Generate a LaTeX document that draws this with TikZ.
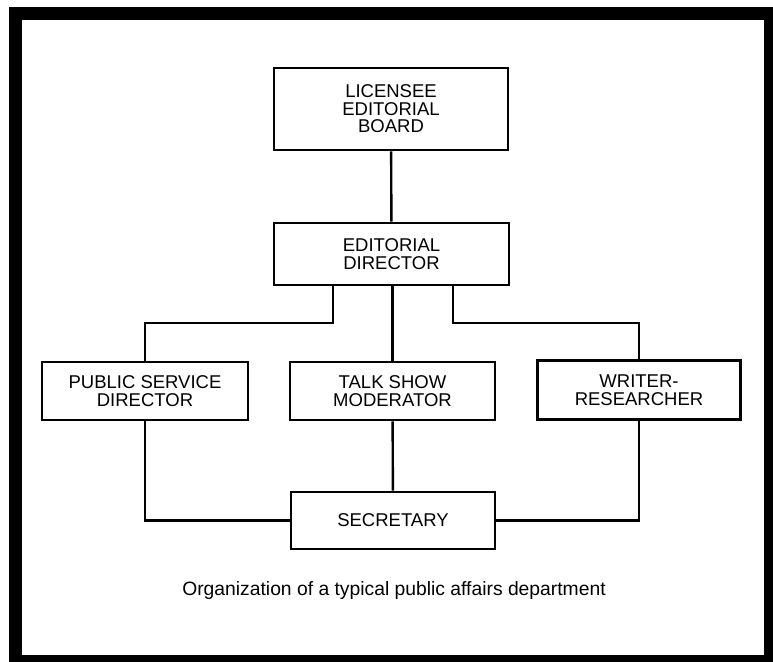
\documentclass[tikz,border=0pt]{standalone}
\usepackage{fontspec}
\setmainfont{Liberation Sans}
\begin{document}
\begin{tikzpicture}[x=1pt, y=-1pt,
    post/.style={draw, line width=2.8pt, align=center, inner sep=0pt,
      font=\fontsize{18.5}{17.5}\selectfont},
    link/.style={line width=2.4pt}]
    \useasboundingbox (0,0) rectangle (773,661);
    \draw[line width=13pt] (15,13.5) rectangle (770,661);
    \node[post, minimum width=234pt, minimum height=82pt] (board) at (391,109) {LICENSEE\\EDITORIAL\\BOARD};
    \node[post, minimum width=235pt, minimum height=62pt] (editor) at (391.5,254) {EDITORIAL\\DIRECTOR};
    \node[post, minimum width=206pt, minimum height=58pt] (service) at (145,391) {PUBLIC SERVICE\\DIRECTOR};
    \node[post, minimum width=205pt, minimum height=58pt] (talk) at (392.5,391) {TALK SHOW\\MODERATOR};
    \node[post, minimum width=203pt, minimum height=59pt] (writer) at (639,390) {WRITER-\\RESEARCHER};
    \node[post, minimum width=204pt, minimum height=57pt] (secretary) at (393,520.5) {SECRETARY};
    \node[font=\fontsize{19.3}{20}\selectfont] (caption) at (394,591) {Organization of a typical public affairs department};
    \coordinate (forkl) at (333,323); %
    \coordinate (forkr) at (453,323); %
    \draw[link] (board) -- (editor);
    \draw[link] (forkl |- editor.south) -- (forkl) -| (service.north);
    \draw[link] (editor.south -| talk.north) -- (talk.north);
    \draw[link] (forkr |- editor.south) -- (forkr) -| (writer.north);
    \draw[link] (service.south) |- (secretary.west);
    \draw[link] (talk) -- (secretary);
    \draw[link] (writer.south) |- (secretary.east);
  \end{tikzpicture}
\end{document}
